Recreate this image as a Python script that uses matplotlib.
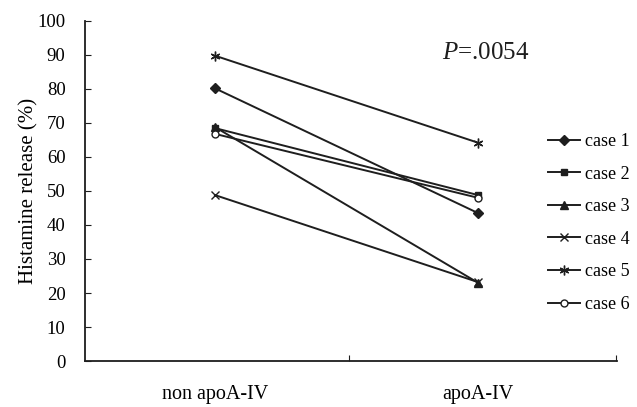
import matplotlib
matplotlib.use("Agg")
import matplotlib.pyplot as plt

categories = ["non apoA-IV", "apoA-IV"]
case_names = ["case 1", "case 2", "case 3", "case 4", "case 5", "case 6"]
case1 = [80.2, 43.5]
case2 = [68.5, 48.8]
case3 = [68.8, 23.0]
case4 = [48.8, 23.2]
case5 = [89.8, 64.2]
case6 = [66.8, 48.0]
series = [case1, case2, case3, case4, case5, case6]
yticks = [0, 10, 20, 30, 40, 50, 60, 70, 80, 90, 100]

plt.rcParams['font.family'] = ['Liberation Serif', 'DejaVu Serif']
plt.rcParams['mathtext.fontset'] = 'custom'
plt.rcParams['mathtext.it'] = 'Liberation Serif:italic'
plt.rcParams['mathtext.rm'] = 'Liberation Serif'
fig = plt.figure(figsize=(6.37, 4.07), dpi=100)
ax = fig.add_axes([85/637, 1 - 361/407, (617-85)/637, 340/407])

col = '#1e1e1e'
styles = [
    dict(marker='D', ms=5, mfc=col, mec=col),
    dict(marker='s', ms=5, mfc=col, mec=col),
    dict(marker='^', ms=6, mfc=col, mec=col),
    dict(marker='x', ms=6, mfc='none', mec=col, mew=1.0),
    dict(marker=(6, 2, 0), ms=7, mfc='none', mec=col, mew=1.0),
    dict(marker='o', ms=5, mfc='white', mec=col, mew=1.0),
]
xs = list(range(len(categories)))
handles = []
for vals, name, st in zip(series, case_names, styles):
    h, = ax.plot(xs, vals, color=col, lw=1.4, label=name, **st)
    handles.append(h)

xmin, xmax = -0.494, 1.528
ax.set_xlim(xmin, xmax)
ax.set_ylim(0, 100)
ax.set_yticks(yticks)
ax.set_yticklabels([str(t) for t in yticks], fontsize=13.5)
ax.set_xticks([0.51, xmax - 0.004])
ax.set_xticklabels(["", ""])
ax.set_xticks(xs, minor=True)
ax.set_xticklabels(categories, minor=True, fontsize=14.5)
ax.tick_params(axis='x', which='minor', length=0, pad=17)
ax.tick_params(axis='x', which='major', direction='in', length=4, color=col)
ax.tick_params(axis='y', direction='in', length=4, color=col, pad=14)
for s in ['top', 'right']:
    ax.spines[s].set_visible(False)
for s in ['left', 'bottom']:
    ax.spines[s].set_color(col)
    ax.spines[s].set_linewidth(1.3)
ax.set_ylabel("Histamine release (%)", fontsize=15)
ax.yaxis.set_label_coords(-0.087, 0.5)

ax.text(1.03, 90.5, "$P$=.0054", fontsize=18, ha='center', va='center',
        color=col)

leg = fig.legend(handles=handles, loc='upper left',
                 bbox_to_anchor=(541/637, 1 - 126/407), frameon=False,
                 fontsize=13, handlelength=1.75, labelspacing=0.86,
                 handletextpad=0.3, borderaxespad=0)

fig.savefig("out.png", dpi=100)
